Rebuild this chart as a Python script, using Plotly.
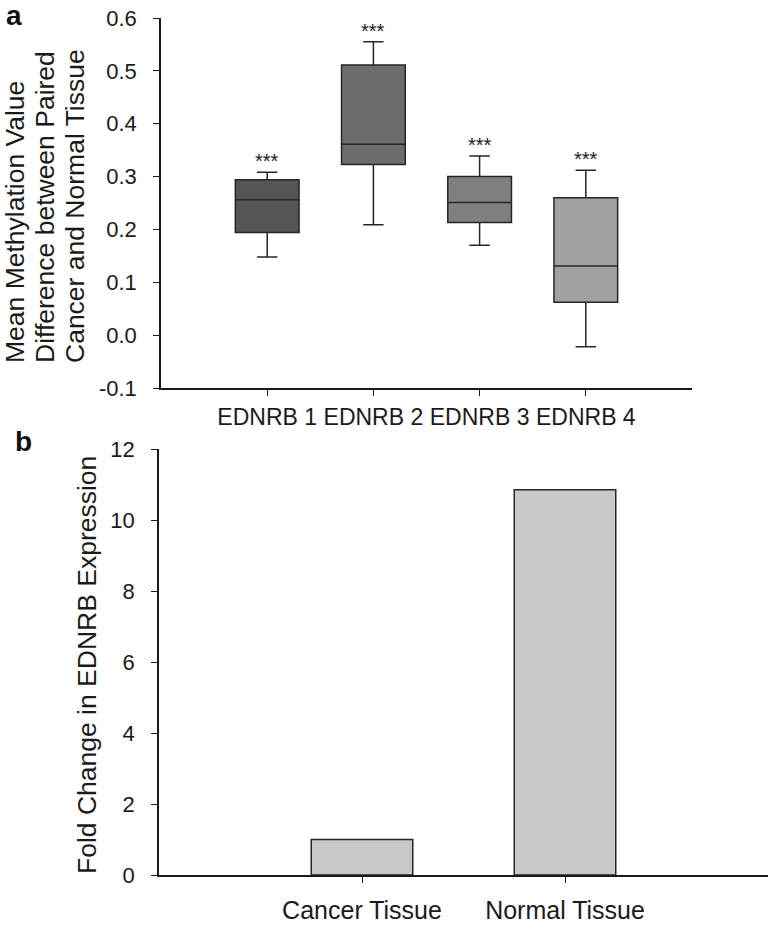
import plotly.graph_objects as go

# ---- Panel a data (box plot summaries) ----
categories_a = ["EDNRB 1", "EDNRB 2", "EDNRB 3", "EDNRB 4"]
lower_whisker = [0.148, 0.209, 0.170, -0.022]
q1_values = [0.194, 0.323, 0.213, 0.062]
median_values = [0.256, 0.361, 0.251, 0.131]
q3_values = [0.294, 0.511, 0.300, 0.260]
upper_whisker = [0.308, 0.555, 0.339, 0.312]
significance = ["***", "***", "***", "***"]
box_colors = ["#555555", "#6d6d6d", "#808080", "#a1a1a3"]
ytick_vals_a = [-0.1, 0.0, 0.1, 0.2, 0.3, 0.4, 0.5, 0.6]
ytick_text_a = ["-0.1", "0.0", "0.1", "0.2", "0.3", "0.4", "0.5", "0.6"]

# ---- Panel b data (bar chart) ----
categories_b = ["Cancer Tissue", "Normal Tissue"]
fold_change = [1.0, 10.85]

W, H = 776, 925
FONT = "Liberation Sans, Arial, sans-serif"
TXT = "#1a1a1a"

def px_x(p):
    return p / W

def px_y(p):
    return 1 - p / H

fig = go.Figure()

for i, cat in enumerate(categories_a):
    fig.add_trace(go.Box(
        x=[cat], q1=[q1_values[i]], median=[median_values[i]], q3=[q3_values[i]],
        lowerfence=[lower_whisker[i]], upperfence=[upper_whisker[i]],
        width=0.6, whiskerwidth=0.32, fillcolor=box_colors[i],
        line=dict(color="#262626", width=1.5), boxpoints=False,
        showlegend=False, hoverinfo="skip", xaxis="x", yaxis="y",
    ))
    fig.add_annotation(
        x=cat, y=upper_whisker[i], xref="x", yref="y", text=significance[i],
        showarrow=False, yanchor="middle", yshift=11,
        font=dict(family=FONT, size=20, color=TXT),
    )

fig.add_trace(go.Bar(
    x=categories_b, y=fold_change, width=0.5,
    marker=dict(color="#c8c8ca", line=dict(color="#262626", width=1.5)),
    showlegend=False, hoverinfo="skip", xaxis="x2", yaxis="y2",
))

axis_common = dict(
    showline=True, linecolor="#1a1a1a", linewidth=1.5, ticks="outside",
    ticklen=6, tickwidth=1.2, tickcolor="#1a1a1a", showgrid=False, zeroline=False,
)

fig.update_layout(
    width=W, height=H, margin=dict(l=0, r=0, t=0, b=0, autoexpand=False),
    paper_bgcolor="white", plot_bgcolor="white",
    boxmode="overlay",
    font=dict(family=FONT, color=TXT),
    xaxis=dict(domain=[px_x(161), px_x(692)], anchor="y", range=[-1, 4],
               type="category", tickfont=dict(size=23, family=FONT, color=TXT),
               ticklabelstandoff=2, **axis_common),
    yaxis=dict(domain=[px_y(388), px_y(18)], anchor="x", range=[-0.1, 0.6],
               tickvals=ytick_vals_a, ticktext=ytick_text_a,
               tickfont=dict(size=22, family=FONT, color=TXT),
               ticklabelstandoff=12, **axis_common),
    xaxis2=dict(domain=[px_x(159), px_x(768)], anchor="y2", range=[-1, 2],
                type="category", tickfont=dict(size=25, family=FONT, color=TXT),
                ticklabelstandoff=6, **axis_common),
    yaxis2=dict(domain=[px_y(875), px_y(449)], anchor="x2", range=[0, 12],
                dtick=2, tickfont=dict(size=22, family=FONT, color=TXT),
                ticklabelstandoff=12, **axis_common),
)

# y-axis titles (panel a: three left-aligned lines)
title_lines_a = ["Mean Methylation Value", "Difference between Paired", "Cancer and Normal Tissue"]
for xc, line in zip([15, 45, 75], title_lines_a):
    fig.add_annotation(
        x=px_x(xc), y=px_y(365), xref="paper", yref="paper", text=line,
        textangle=-90, showarrow=False, xanchor="center", yanchor="bottom",
        font=dict(family=FONT, size=26.5, color=TXT),
    )

fig.add_annotation(
    x=px_x(87), y=px_y(665), xref="paper", yref="paper",
    text="Fold Change in EDNRB Expression", textangle=-90, showarrow=False,
    xanchor="center", yanchor="middle", font=dict(family=FONT, size=26.5, color=TXT),
)

# panel letters
fig.add_annotation(x=px_x(14), y=px_y(15), xref="paper", yref="paper", text="<b>a</b>",
                   showarrow=False, xanchor="center", yanchor="middle",
                   font=dict(family=FONT, size=28, color="#111111"))
fig.add_annotation(x=px_x(23), y=px_y(441), xref="paper", yref="paper", text="<b>b</b>",
                   showarrow=False, xanchor="center", yanchor="middle",
                   font=dict(family=FONT, size=28, color="#111111"))

fig.write_html("out.html", config={"displayModeBar": False},
               post_script="document.body.style.margin='0px';")
